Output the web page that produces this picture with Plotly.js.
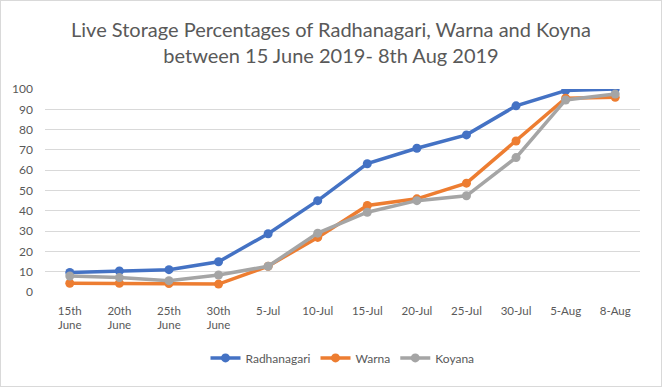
<!DOCTYPE html>
<html><head><meta charset="utf-8">
<script src="https://cdn.plot.ly/plotly-3.0.1.min.js"></script>
<style>html,body{margin:0;padding:0;background:#fff}#c{width:662px;height:387px;box-sizing:border-box;border:1px solid #d9d9d9}</style>
</head><body><div id="c"></div>
<script>
const categories = ["15th<br>June","20th<br>June","25th<br>June","30th<br>June","5-Jul","10-Jul","15-Jul","20-Jul","25-Jul","30-Jul","5-Aug","8-Aug"];
const radhanagari = [9.6,10.4,11.0,14.9,28.7,45.0,63.2,70.8,77.4,91.7,99.2,100.0];
const warna = [4.3,4.3,4.2,3.9,12.7,26.9,42.6,45.9,53.6,74.4,95.5,95.9];
const koyana = [7.9,7.1,5.6,8.4,12.7,29.0,39.3,45.0,47.4,66.2,94.6,97.5];
const yTicks = [0,10,20,30,40,50,60,70,80,90,100];

function tr(name, y, color){
  return {type:'scatter', mode:'lines+markers', name:name, x:categories, y:y,
    line:{color:color, width:3.5}, marker:{color:color, size:9}};
}
const data = [tr('Radhanagari', radhanagari, '#4472c4'), tr('Warna', warna, '#ed7d31'), tr('Koyana', koyana, '#a5a5a5')];
const layout = {
  width:660, height:385,
  margin:{l:44, r:21, t:88, b:94},
  paper_bgcolor:'#fff', plot_bgcolor:'#fff',
  font:{family:'Lato, sans-serif', color:'#595959', size:12},
  title:{text:'Live Storage Percentages of Radhanagari, Warna and Koyna<br>between 15 June 2019- 8th Aug 2019', x:0.5, xanchor:'center', yref:'container', y:0.907, yanchor:'middle', font:{size:20, color:'#595959'}},
  xaxis:{type:'category', tickvals:categories, ticktext:categories, showgrid:false, showline:false, zeroline:false, ticks:'', tickfont:{size:11.5}, range:[-0.5,11.5], ticklabelstandoff:10},
  yaxis:{range:[0,100], tickvals:yTicks, showgrid:true, gridcolor:'#d9d9d9', gridwidth:1, zeroline:false, showline:false, ticks:'', tickfont:{size:12}, ticklabelstandoff:11},
  showlegend:true,
  legend:{orientation:'h', x:0.5, xanchor:'center', yref:'container', y:0.073, yanchor:'middle', font:{size:12}, itemwidth:30},
  hovermode:false
};
Plotly.newPlot('c', data, layout, {displayModeBar:false, staticPlot:true});
</script></body></html>
